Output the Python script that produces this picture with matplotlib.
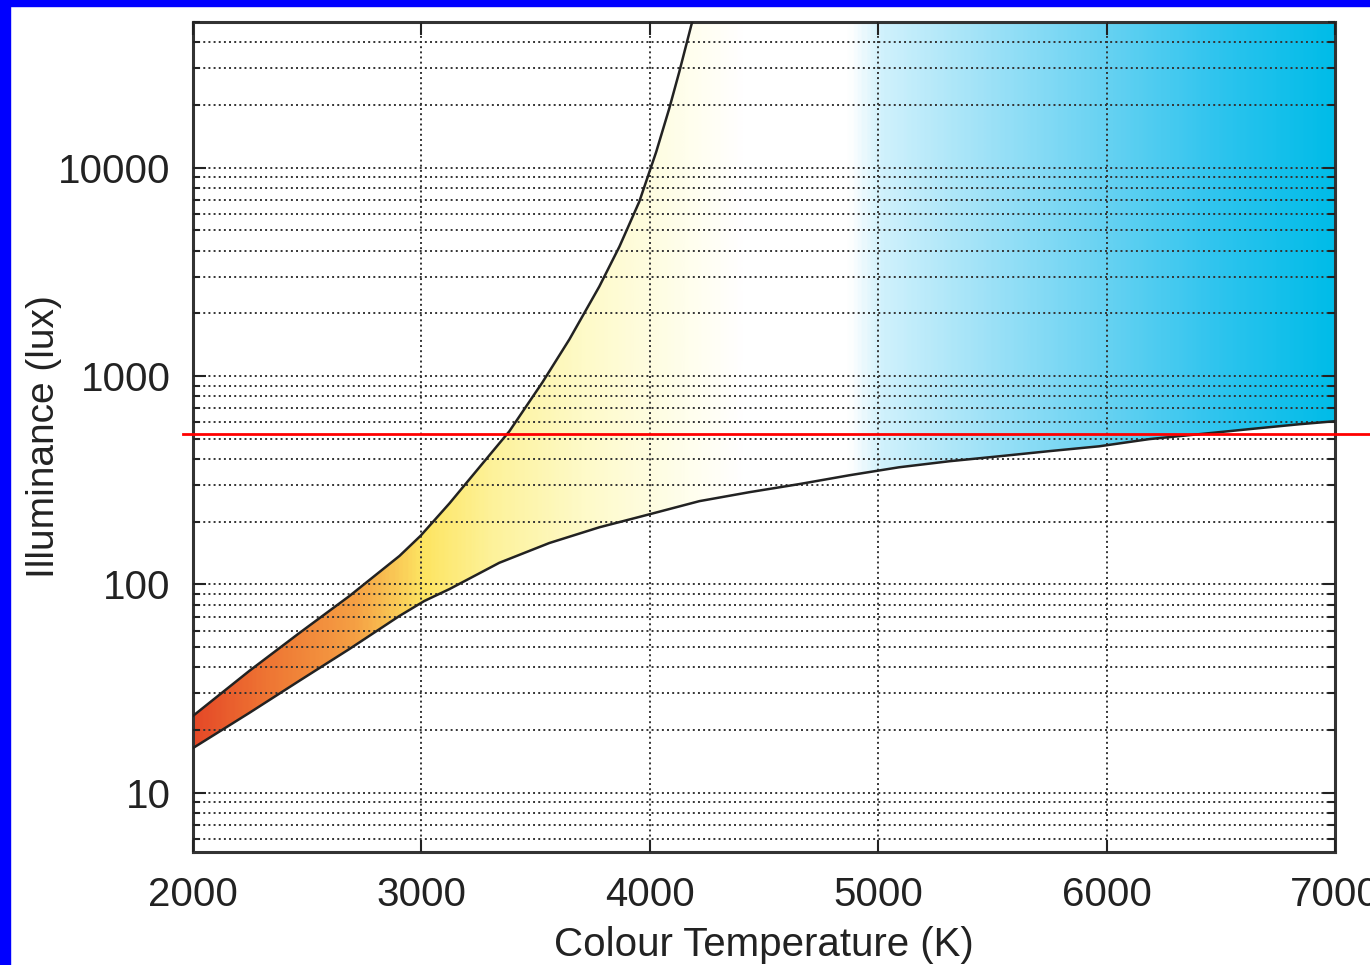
import numpy as np
import matplotlib
matplotlib.use("Agg")
import matplotlib.pyplot as plt
from matplotlib.colors import LinearSegmentedColormap
from matplotlib.patches import Polygon, Rectangle
from matplotlib.ticker import LogLocator, NullFormatter

plt.rcParams['font.family'] = ['Liberation Sans', 'DejaVu Sans']

# Kruithof curve, values
upper_T = [2000, 2247, 2466, 2685, 2904, 2996, 3123, 3254, 3385, 3530, 3648,
           3779, 3867, 3954, 4028, 4085, 4129, 4182, 4186]
upper_lux = [23.4, 38.5, 58.5, 88, 137, 171, 245, 365, 543, 933, 1500,
             2690, 4180, 6870, 11900, 19200, 28800, 48400, 50000]
lower_T = [2000, 2247, 2466, 2685, 2904, 3013, 3123, 3341, 3560, 3779, 3998,
           4217, 4435, 4654, 4873, 5092, 5311, 5529, 5748, 5967, 6186, 6405,
           6624, 6843, 7000]
lower_lux = [16.4, 24.2, 34.5, 49.0, 70.6, 83.3, 95, 127, 158, 188, 217,
             251, 277, 303, 334, 365, 390, 412, 436, 460, 498, 526,
             556, 587, 607]
red_lux = 530

x_ticks = [2000, 3000, 4000, 5000, 6000, 7000]
y_ticks = [10, 100, 1000, 10000]
y_labels = ['10', '100', '1000', '10000']
x_label = 'Colour Temperature (K)'
y_label = 'Illuminance (lux)'

# colour along the temperature axis
grad_stops = [(0.00, '#e54a28'), (0.06, '#ee7433'), (0.14, '#f5a044'),
              (0.20, '#fde562'), (0.26, '#fdf29a'), (0.34, '#fefac8'),
              (0.43, '#fffeec'), (0.48, '#ffffff'), (0.575, '#ffffff'),
              (0.605, '#cff1fc'), (0.70, '#9ce1f7'), (0.80, '#67d2f2'),
              (0.90, '#2ec4ee'), (1.00, '#00bce8')]
cmap = LinearSegmentedColormap.from_list('kruithof', grad_stops)

fig = plt.figure(figsize=(13.7, 9.65), dpi=100)
ax = fig.add_axes([193 / 1370, 1 - 852 / 965, 1142 / 1370, 830 / 965])
ax.set_yscale('log')
ax.set_xlim(2000, 7000)
ax.set_ylim(5.2, 50000)

# gradient image clipped to the region between the curves
grad = np.linspace(0, 1, 600).reshape(1, -1)
img = ax.imshow(grad, cmap=cmap, aspect='auto', extent=[2000, 7000, 5.2, 50000],
                origin='lower', zorder=1, interpolation='bilinear')
verts = list(zip(upper_T, upper_lux)) + [(7000, 50000)] + list(zip(lower_T[::-1], lower_lux[::-1]))
clip = Polygon(verts, closed=True, transform=ax.transData, facecolor='none', edgecolor='none')
ax.add_patch(clip)
img.set_clip_path(clip)

ax.plot(upper_T, upper_lux, color='#222222', lw=1.8, zorder=4)
ax.plot(lower_T, lower_lux, color='#222222', lw=1.8, zorder=4)

ax.axhline(red_lux, xmin=-0.009, xmax=1.04, color='#ff0000', lw=2, clip_on=False, zorder=5)

ax.set_xticks(x_ticks)
ax.set_xticklabels([str(t) for t in x_ticks])
ax.set_yticks(y_ticks)
ax.set_yticklabels(y_labels)
ax.yaxis.set_minor_locator(LogLocator(base=10, subs=np.arange(2, 10), numticks=20))
ax.yaxis.set_minor_formatter(NullFormatter())

ax.yaxis.grid(True, which='both', ls=':', color='#333333', lw=1.4, zorder=3)
ax.xaxis.grid(True, which='major', ls=':', color='#333333', lw=1.4, zorder=3)
ax.set_axisbelow(False)

ax.tick_params(which='both', direction='in', top=True, right=True, labelsize=29,
               colors='#222222', width=1.5)
ax.tick_params(which='major', length=9)
ax.tick_params(which='minor', length=5)
ax.tick_params(axis='x', pad=17)
ax.tick_params(axis='y', pad=16)
for s in ax.spines.values():
    s.set_linewidth(2.2)
    s.set_color('#333333')

ax.set_xlabel(x_label, fontsize=29, color='#222222', labelpad=9)
ax.set_ylabel(y_label, fontsize=28, color='#222222', labelpad=-3)

# blue frame on top and left edge
fig.add_artist(Rectangle((0, 1 - 6 / 965), 1, 6 / 965, transform=fig.transFigure,
                         color='#0000ff', zorder=10))
fig.add_artist(Rectangle((0, 0), 10 / 1370, 1, transform=fig.transFigure,
                         color='#0000ff', zorder=10))

plt.savefig('out.png', dpi=100)
